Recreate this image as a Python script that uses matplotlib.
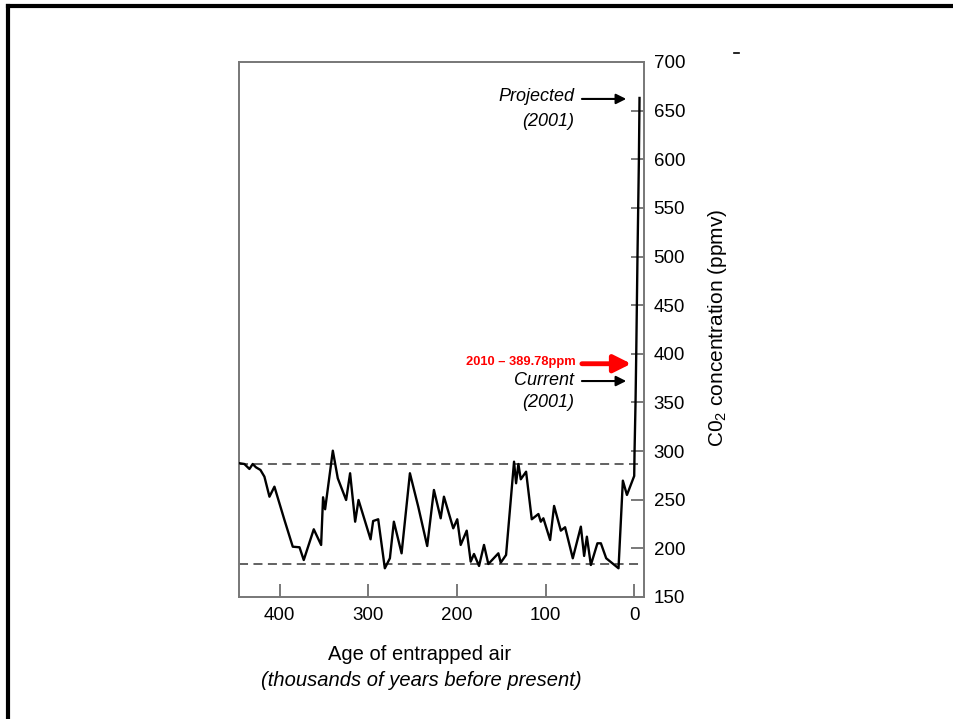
import matplotlib
matplotlib.use("Agg")
import matplotlib.pyplot as plt
from matplotlib.lines import Line2D

plt.rcParams["font.family"] = ["Liberation Sans", "DejaVu Sans"]
plt.rcParams["mathtext.fontset"] = "custom"
plt.rcParams["mathtext.rm"] = "Liberation Sans"

# age of air (thousands of years before present) and CO2 (ppmv)
age = [445.5, 439.9, 434.2, 430.5, 426.8, 421.8, 417.3, 411.6, 406.0, 394.7,
       385.3, 377.7, 372.9, 361.6, 353.3, 351.1, 348.8, 340.1, 334.5, 325.1,
       320.6, 314.9, 311.1, 297.5, 294.6, 288.9, 281.4, 275.7, 271.2, 262.5,
       253.1, 243.7, 233.6, 226.0, 218.4, 214.7, 204.2, 199.7, 195.8, 189.0,
       184.5, 180.8, 175.1, 169.5, 164.6, 153.3, 150.6, 144.6, 135.6, 133.3,
       130.7, 128.0, 122.0, 115.6, 108.1, 105.4, 102.5, 94.9, 90.4, 82.8,
       78.0, 69.3, 60.2, 56.5, 53.4, 48.9, 41.5, 37.6, 31.6, 17.7,
       12.8, 8.2, 0.0, -0.4, -1.5, -2.3, -3.7, -5.3, -6.0]
co2 = [287.5, 286.7, 281.6, 286.7, 283.3, 280.6, 273.7, 253.1, 263.4, 229.2,
       201.7, 201.1, 188.0, 219.6, 203.5, 252.5, 240.2, 300.4, 272.0, 249.7,
       277.2, 227.4, 249.7, 209.3, 228.1, 229.9, 179.5, 189.8, 227.4, 194.9,
       277.2, 242.8, 202.4, 260.0, 230.9, 253.1, 220.6, 229.9, 203.5, 218.2,
       186.3, 194.2, 181.9, 203.5, 183.9, 194.9, 185.3, 193.2, 289.1, 266.9,
       286.7, 271.0, 278.8, 229.9, 235.3, 227.4, 230.9, 208.6, 243.6, 218.2,
       221.7, 189.8, 222.3, 192.2, 212.0, 182.9, 205.2, 205.2, 189.8, 179.5,
       269.6, 254.9, 274.4, 300.0, 350.0, 400.0, 500.0, 600.0, 663.0]

glacial_max = 287
glacial_min = 184
current_2001 = 370
projected_2001 = 662
measured_2010 = 389.78

x_ticks = [400, 300, 200, 100, 0]
y_ticks = list(range(150, 701, 50))

fig = plt.figure(figsize=(9.54, 7.19), dpi=100)
ax = fig.add_axes([0.2505, 0.1697, 0.4245, 0.7441])

ax.plot(age, co2, color="black", lw=1.7, zorder=3)
ax.axhline(glacial_max, color="#555555", lw=1.3, ls=(0, (5, 3)))
ax.axhline(glacial_min, color="#555555", lw=1.3, ls=(0, (5, 3)))

ax.set_xlim(446, -11)
ax.set_ylim(150, 700)
ax.set_xticks(x_ticks)
ax.set_yticks(y_ticks)
ax.yaxis.tick_right()
ax.tick_params(axis="both", direction="in", length=9.5, width=1.1,
               color="#555555", labelsize=13.5, pad=7)
for s in ax.spines.values():
    s.set_color("#777777")
    s.set_linewidth(1.4)

# annotations
black_arrow = dict(arrowstyle="-|>", color="black", lw=1.5, mutation_scale=15,
                   shrinkA=0, shrinkB=0)
ax.annotate("", xy=(9, projected_2001), xytext=(59, projected_2001),
            arrowprops=black_arrow)
ax.text(68, 664, "Projected", ha="right", va="center", fontsize=13, style="italic")
ax.text(68, 639, "(2001)", ha="right", va="center", fontsize=13, style="italic")

ax.annotate("", xy=(9, current_2001 + 2), xytext=(59, current_2001 + 2),
            arrowprops=black_arrow)
ax.text(68, 373, "Current", ha="right", va="center", fontsize=13, style="italic")
ax.text(68, 350, "(2001)", ha="right", va="center", fontsize=13, style="italic")

ax.annotate("", xy=(3.4, measured_2010), xytext=(59, measured_2010),
            arrowprops=dict(arrowstyle="-|>", color="red", lw=3.5,
                            mutation_scale=26, shrinkA=0, shrinkB=0))
ax.text(66, measured_2010 + 2, "2010 \u2013 389.78ppm", ha="right", va="center",
        fontsize=9.3, fontweight="bold", color="red")

fig.text(718 / 954, 1 - 328 / 719, "C0$_2$ concentration (ppmv)", rotation=90,
         ha="center", va="center", fontsize=15)
fig.text(420 / 954, 1 - 655 / 719, "Age of entrapped air", ha="center",
         va="center", fontsize=14.5)
fig.text(421 / 954, 1 - 680 / 719, "(thousands of years before present)",
         ha="center", va="center", fontsize=14.5, style="italic")

# slide border and stray mark
fig.add_artist(Line2D([8 / 954, 8 / 954], [0, 1 - 6 / 719], color="black", lw=3))
fig.add_artist(Line2D([8 / 954, 1], [1 - 6 / 719, 1 - 6 / 719], color="black", lw=3))
fig.add_artist(Line2D([734 / 954, 739 / 954], [1 - 53 / 719, 1 - 53 / 719],
                      color="black", lw=1.2))

fig.savefig("out.png", dpi=100)
